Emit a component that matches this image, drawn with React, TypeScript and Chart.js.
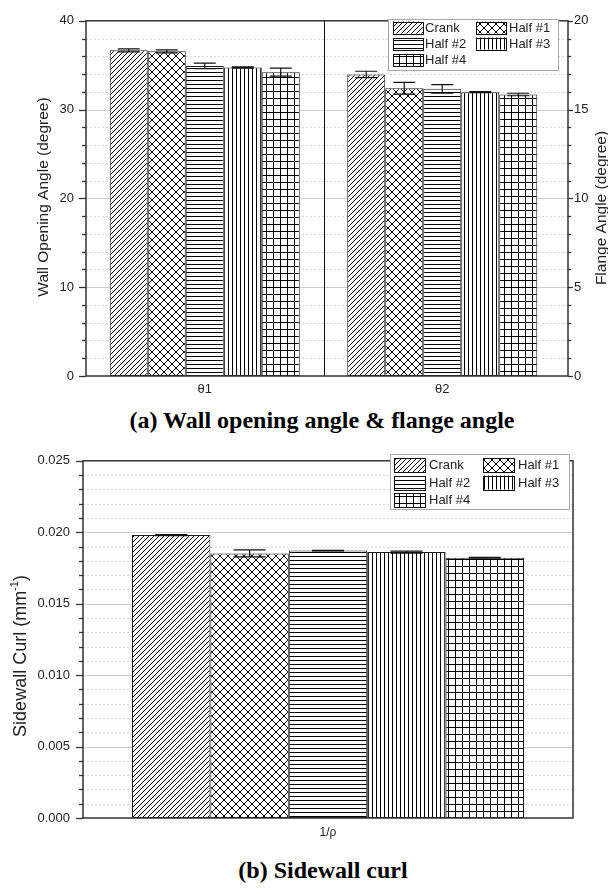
import React, { useEffect, useRef } from "react";
import { Chart, registerables } from "chart.js";

Chart.register(...registerables);
Chart.defaults.font.family = '"Liberation Sans", Arial, sans-serif';
Chart.defaults.color = "#222";

if (typeof document !== "undefined") document.body.style.margin = "0";

// ---------- data ----------
const seriesNames = ["Crank", "Half #1", "Half #2", "Half #3", "Half #4"];

// (a) angle chart: θ1 on left axis, θ2 on right axis
const angleCategories = ["θ1", "θ2"];
const crankAngle = [36.67, 16.98];
const half1Angle = [36.56, 16.2];
const half2Angle = [34.92, 16.17];
const half3Angle = [34.74, 15.98];
const half4Angle = [34.22, 15.85];
const crankAngleErr = [0.17, 0.18];
const half1AngleErr = [0.17, 0.33];
const half2AngleErr = [0.31, 0.24];
const half3AngleErr = [0.07, 0.03];
const half4AngleErr = [0.45, 0.07];
const wallTicks = [0, 10, 20, 30, 40];
const flangeTicks = [0, 5, 10, 15, 20];

// (b) sidewall curl
const curlCategories = ["1/ρ"];
const crankCurl = [0.0198];
const half1Curl = [0.01852];
const half2Curl = [0.01872];
const half3Curl = [0.01861];
const half4Curl = [0.01822];
const crankCurlErr = [0.00004];
const half1CurlErr = [0.00024];
const half2CurlErr = [0.00002];
const half3CurlErr = [0.00007];
const half4CurlErr = [0.00002];
const curlTicks = [0, 0.005, 0.01, 0.015, 0.02, 0.025];

// ---------- patterns ----------
const patternKinds = ["diag", "cross", "horiz", "vert", "grid"];

function makePattern(kind: string): CanvasPattern | string {
  const c = document.createElement("canvas");
  let s = 5;
  if (kind === "cross") s = 8;
  if (kind === "horiz" || kind === "vert") s = 4;
  if (kind === "grid") s = 7;
  c.width = s;
  c.height = s;
  const ctx = c.getContext("2d")!;
  ctx.fillStyle = "#fff";
  ctx.fillRect(0, 0, s, s);
  ctx.strokeStyle = "#000";
  ctx.fillStyle = "#000";
  if (kind === "diag" || kind === "cross") {
    ctx.lineWidth = 1;
    ctx.beginPath();
    ctx.moveTo(-1, s + 1);
    ctx.lineTo(s + 1, -1);
    ctx.moveTo(-1, 1);
    ctx.lineTo(1, -1);
    ctx.moveTo(s - 1, s + 1);
    ctx.lineTo(s + 1, s - 1);
    if (kind === "cross") {
      ctx.moveTo(-1, -1);
      ctx.lineTo(s + 1, s + 1);
      ctx.moveTo(s - 1, -1);
      ctx.lineTo(s + 1, 1);
      ctx.moveTo(-1, s - 1);
      ctx.lineTo(1, s + 1);
    }
    ctx.stroke();
  } else if (kind === "horiz") {
    ctx.fillRect(0, 0, s, 1);
  } else if (kind === "vert") {
    ctx.fillRect(0, 0, 1, s);
  } else if (kind === "grid") {
    ctx.fillRect(0, 0, s, 1);
    ctx.fillRect(0, 0, 1, s);
  }
  return ctx.createPattern(c, "repeat") || "#fff";
}

// ---------- plugin ----------
type AxisDeco = { id: string; minor: number; major: number; side: "left" | "right"; majorLen: number; minorLen: number };

const decoPlugin = {
  id: "deco",
  beforeDatasetsDraw(chart: any, _a: any, opts: any) {
    const { ctx, chartArea } = chart;
    const left = chartArea.left;
    const right = opts.frameRight ?? chartArea.right;
    const ys = chart.scales[opts.gridAxis.id];
    const n = Math.round((ys.max - ys.min) / opts.gridAxis.minor);
    const ratio = Math.round(opts.gridAxis.major / opts.gridAxis.minor);
    ctx.save();
    for (let i = 1; i < n; i++) {
      const v = ys.min + i * opts.gridAxis.minor;
      const y = Math.round(ys.getPixelForValue(v)) + 0.5;
      ctx.beginPath();
      if (i % ratio === 0) {
        ctx.setLineDash([]);
        ctx.strokeStyle = "#cfcfcf";
      } else {
        ctx.setLineDash([2, 2]);
        ctx.strokeStyle = "#d8d8d8";
      }
      ctx.lineWidth = 1;
      ctx.moveTo(left, y);
      ctx.lineTo(right, y);
      ctx.stroke();
    }
    ctx.restore();
  },
  afterDatasetsDraw(chart: any, _a: any, opts: any) {
    const { ctx, chartArea } = chart;
    ctx.save();
    // error bars
    chart.data.datasets.forEach((ds: any, di: number) => {
      const meta = chart.getDatasetMeta(di);
      const ys = chart.scales[meta.yAxisID];
      ds.data.forEach((v: number | null, j: number) => {
        if (v == null) return;
        const e = ds.errors[j];
        const el = meta.data[j];
        const x = el.x;
        const yt = ys.getPixelForValue(v + e);
        const yb = ys.getPixelForValue(v - e);
        const h = opts.capHalf;
        ctx.strokeStyle = "#111";
        ctx.lineWidth = 1.2;
        ctx.beginPath();
        ctx.moveTo(x, yt);
        ctx.lineTo(x, yb);
        ctx.moveTo(x - h, yt);
        ctx.lineTo(x + h, yt);
        ctx.moveTo(x - h, yb);
        ctx.lineTo(x + h, yb);
        ctx.stroke();
      });
    });
    const left = chartArea.left;
    const right = opts.frameRight ?? chartArea.right;
    const top = chartArea.top;
    const bottom = chartArea.bottom;
    // divider
    if (opts.divider) {
      const xs = chart.scales.x;
      const xm = Math.round((xs.getPixelForValue(0) + xs.getPixelForValue(1)) / 2) + 0.5;
      ctx.strokeStyle = "#111";
      ctx.lineWidth = 1;
      ctx.beginPath();
      ctx.moveTo(xm, top);
      ctx.lineTo(xm, bottom);
      ctx.stroke();
    }
    // frame
    ctx.strokeStyle = "#333";
    ctx.lineWidth = 1.5;
    ctx.strokeRect(left, top, right - left, bottom - top);
    // ticks
    (opts.axes as AxisDeco[]).forEach((ax) => {
      const s = chart.scales[ax.id];
      const n = Math.round((s.max - s.min) / ax.minor);
      const ratio = Math.round(ax.major / ax.minor);
      const x0 = ax.side === "left" ? left : right;
      const dir = ax.side === "left" ? -1 : 1;
      ctx.lineWidth = 1.3;
      ctx.strokeStyle = "#333";
      for (let i = 0; i <= n; i++) {
        const y = Math.round(s.getPixelForValue(s.min + i * ax.minor)) + 0.5;
        const len = i % ratio === 0 ? ax.majorLen : ax.minorLen;
        ctx.beginPath();
        ctx.moveTo(x0, y);
        ctx.lineTo(x0 + dir * len, y);
        ctx.stroke();
      }
    });
    ctx.restore();
  },
  afterDraw(chart: any, _a: any, opts: any) {
    const { ctx, chartArea } = chart;
    ctx.save();
    ctx.fillStyle = "#222";
    // titles
    (opts.titles || []).forEach((t: any) => {
      const cy = t.cy ?? (chartArea.top + chartArea.bottom) / 2;
      ctx.save();
      ctx.translate(t.x, cy);
      ctx.rotate(-Math.PI / 2);
      ctx.textBaseline = "alphabetic";
      const mainFont = `${t.size}px "Liberation Sans", Arial, sans-serif`;
      const supFont = `${Math.round(t.size * 0.62)}px "Liberation Sans", Arial, sans-serif`;
      ctx.font = mainFont;
      const w1 = ctx.measureText(t.text).width;
      let w2 = 0;
      let w3 = 0;
      if (t.sup) {
        ctx.font = supFont;
        w2 = ctx.measureText(t.sup).width;
        ctx.font = mainFont;
        w3 = ctx.measureText(t.after).width;
      }
      const total = w1 + w2 + w3;
      let x = -total / 2;
      ctx.font = mainFont;
      ctx.fillText(t.text, x, 0);
      x += w1;
      if (t.sup) {
        ctx.font = supFont;
        ctx.fillText(t.sup, x, -t.size * 0.45);
        x += w2;
        ctx.font = mainFont;
        ctx.fillText(t.after, x, 0);
      }
      ctx.restore();
    });
    // legend
    const lg = opts.legend;
    if (lg) {
      ctx.fillStyle = "#fff";
      ctx.fillRect(lg.x, lg.y, lg.w, lg.h);
      ctx.strokeStyle = "#a8a8a8";
      ctx.lineWidth = 1;
      ctx.strokeRect(lg.x + 0.5, lg.y + 0.5, lg.w, lg.h);
      ctx.font = `13px "Liberation Sans", Arial, sans-serif`;
      ctx.textBaseline = "middle";
      const dsList = chart.data.datasets;
      seriesNames.forEach((name, k) => {
        const col = k % 2;
        const row = Math.floor(k / 2);
        const cy = lg.rowY[row];
        const sx = lg.swX[col];
        const ds = dsList[k];
        ctx.fillStyle = ds.backgroundColor;
        ctx.fillRect(sx, cy - lg.swH / 2, lg.swW, lg.swH);
        ctx.strokeStyle = "#111";
        ctx.lineWidth = 1;
        ctx.strokeRect(Math.round(sx) + 0.5, Math.round(cy - lg.swH / 2) + 0.5, lg.swW, lg.swH);
        ctx.fillStyle = "#222";
        ctx.fillText(name, lg.textX[col], cy + 0.5);
      });
    }
    ctx.restore();
  },
};

// ---------- chart configs ----------
function angleConfig(): any {
  const patterns = patternKinds.map(makePattern);
  const values = [crankAngle, half1Angle, half2Angle, half3Angle, half4Angle];
  const errs = [crankAngleErr, half1AngleErr, half2AngleErr, half3AngleErr, half4AngleErr];
  const datasets: any[] = [];
  [0, 1].forEach((ci) => {
    values.forEach((vals, s) => {
      datasets.push({
        label: seriesNames[s],
        data: angleCategories.map((_, i) => (i === ci ? vals[i] : null)),
        errors: angleCategories.map((_, i) => (i === ci ? errs[s][i] : null)),
        yAxisID: ci === 0 ? "y" : "y1",
        backgroundColor: patterns[s],
        borderColor: "#1a1a1a",
        borderWidth: 1,
        borderSkipped: false,
        categoryPercentage: 0.8,
        barPercentage: 1,
        skipNull: true,
      });
    });
  });
  return {
    type: "bar",
    data: { labels: angleCategories, datasets },
    options: {
      responsive: false,
      animation: false,
      devicePixelRatio: 1,
      layout: { padding: { top: 16, left: 0, right: 0, bottom: 0 } },
      datasets: { bar: { skipNull: true } },
      plugins: {
        legend: { display: false },
        tooltip: { enabled: false },
        deco: {
          frameRight: 568,
          divider: true,
          capHalf: 11,
          gridAxis: { id: "y", minor: 2, major: 10 },
          axes: [
            { id: "y", minor: 2, major: 10, side: "left", majorLen: 7, minorLen: 4 },
            { id: "y1", minor: 1, major: 5, side: "right", majorLen: 5, minorLen: 3 },
          ],
          titles: [
            { text: "Wall Opening Angle (degree)", x: 48, size: 15.5, cy: 197 },
            { text: "Flange Angle (degree)", x: 606, size: 15.5, cy: 208 },
          ],
          legend: {
            x: 388, y: 19, w: 170, h: 51,
            rowY: [27.5, 43.5, 60],
            swX: [393, 476], swW: 30, swH: 12,
            textX: [425, 509],
          },
        },
      },
      scales: {
        x: {
          type: "category",
          offset: true,
          grid: { display: false, drawTicks: false },
          border: { display: false },
          ticks: { font: { size: 13 }, color: "#222", padding: 6 },
          afterFit: (s: any) => { s.height = 24; },
        },
        y: {
          position: "left",
          min: wallTicks[0],
          max: wallTicks[wallTicks.length - 1],
          afterBuildTicks: (s: any) => { s.ticks = wallTicks.map((v) => ({ value: v })); },
          grid: { display: false, drawTicks: false },
          border: { display: false },
          ticks: { font: { size: 13 }, color: "#222", padding: 12 },
          afterFit: (s: any) => { s.width = 86; },
        },
        y1: {
          position: "right",
          min: flangeTicks[0],
          max: flangeTicks[flangeTicks.length - 1],
          afterBuildTicks: (s: any) => { s.ticks = flangeTicks.map((v) => ({ value: v })); },
          grid: { display: false, drawTicks: false },
          border: { display: false },
          ticks: { font: { size: 13 }, color: "#222", padding: 13 },
          afterFit: (s: any) => { s.width = 47; },
        },
      },
    },
    plugins: [decoPlugin],
  };
}

function curlConfig(): any {
  const patterns = patternKinds.map(makePattern);
  const values = [crankCurl, half1Curl, half2Curl, half3Curl, half4Curl];
  const errs = [crankCurlErr, half1CurlErr, half2CurlErr, half3CurlErr, half4CurlErr];
  const datasets = values.map((vals, s) => ({
    label: seriesNames[s],
    data: vals,
    errors: errs[s],
    yAxisID: "y",
    backgroundColor: patterns[s],
    borderColor: "#1a1a1a",
    borderWidth: 1,
    borderSkipped: false,
    categoryPercentage: 0.8,
    barPercentage: 1,
  }));
  return {
    type: "bar",
    data: { labels: curlCategories, datasets },
    options: {
      responsive: false,
      animation: false,
      devicePixelRatio: 1,
      layout: { padding: { top: 12, left: 0, right: 35, bottom: 0 } },
      plugins: {
        legend: { display: false },
        tooltip: { enabled: false },
        deco: {
          divider: false,
          capHalf: 16,
          gridAxis: { id: "y", minor: 0.001, major: 0.005 },
          axes: [{ id: "y", minor: 0.001, major: 0.005, side: "left", majorLen: 7, minorLen: 4 }],
          titles: [{ text: "Sidewall Curl (mm", sup: "-1", after: ")", x: 26, size: 18, cy: 216 }],
          legend: {
            x: 390, y: 14, w: 179, h: 55,
            rowY: [25, 42.5, 60],
            swX: [394, 483], swW: 31, swH: 14,
            textX: [429, 518],
          },
        },
      },
      scales: {
        x: {
          type: "category",
          offset: true,
          grid: { display: false, drawTicks: false },
          border: { display: false },
          ticks: { font: { size: 12 }, color: "#222", padding: 7 },
          afterFit: (s: any) => { s.height = 32; },
        },
        y: {
          position: "left",
          min: curlTicks[0],
          max: curlTicks[curlTicks.length - 1],
          afterBuildTicks: (s: any) => { s.ticks = curlTicks.map((v) => ({ value: v })); },
          grid: { display: false, drawTicks: false },
          border: { display: false },
          ticks: { font: { size: 13 }, color: "#222", padding: 13, callback: (v: number) => Number(v).toFixed(3) },
          afterFit: (s: any) => { s.width = 83; },
        },
      },
    },
    plugins: [decoPlugin],
  };
}

const captionStyle: React.CSSProperties = {
  position: "absolute",
  transform: "translateX(-50%)",
  whiteSpace: "nowrap",
  font: 'bold 24px "Liberation Serif", "Times New Roman", serif',
  lineHeight: "26px",
  color: "#000",
};

export default function App() {
  const ref1 = useRef<HTMLCanvasElement>(null);
  const ref2 = useRef<HTMLCanvasElement>(null);
  useEffect(() => {
    document.body.style.margin = "0";
    const c1 = new Chart(ref1.current!, angleConfig());
    const c2 = new Chart(ref2.current!, curlConfig());
    return () => {
      c1.destroy();
      c2.destroy();
    };
  }, []);
  return (
    <div style={{ position: "relative", width: 608, height: 888, background: "#fff", overflow: "hidden" }}>
      <canvas ref={ref1} width={608} height={400} style={{ position: "absolute", left: 0, top: 0 }} />
      <div style={{ ...captionStyle, left: 322, top: 407 }}>(a) Wall opening angle &amp; flange angle</div>
      <canvas ref={ref2} width={608} height={410} style={{ position: "absolute", left: 0, top: 440 }} />
      <div style={{ ...captionStyle, left: 323, top: 857 }}>(b) Sidewall curl</div>
    </div>
  );
}
